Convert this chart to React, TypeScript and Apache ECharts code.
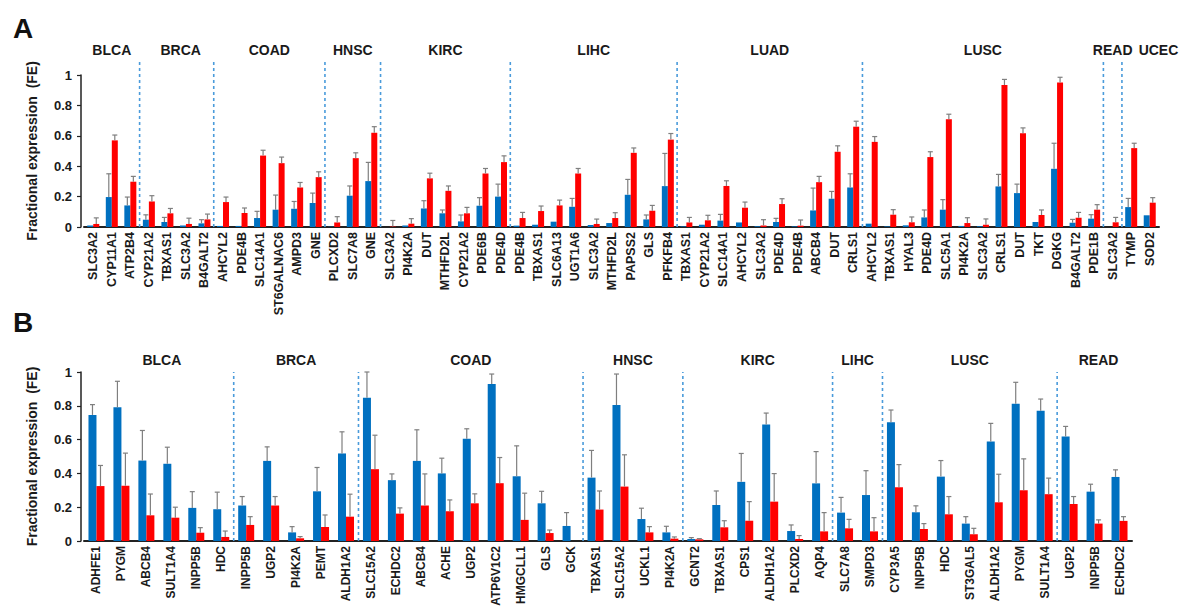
import React, { useEffect, useRef } from "react";
import * as echarts from "echarts";

// ---------- Panel A ----------
const catsA = [
  "SLC3A2", "CYP11A1", "ATP2B4",
  "CYP21A2", "TBXAS1", "SLC3A2", "B4GALT2",
  "AHCYL2", "PDE4B", "SLC14A1", "ST6GALNAC6", "AMPD3", "GNE",
  "PLCXD2", "SLC7A8", "GNE",
  "SLC3A2", "PI4K2A", "DUT", "MTHFD2L", "CYP21A2", "PDE6B", "PDE4D",
  "PDE4B", "TBXAS1", "SLC6A13", "UGT1A6", "SLC3A2", "MTHFD2L", "PAPSS2", "GLS", "PFKFB4",
  "TBXAS1", "CYP21A2", "SLC14A1", "AHCYL2", "SLC3A2", "PDE4D", "PDE4B", "ABCB4", "DUT", "CRLS1",
  "AHCYL2", "TBXAS1", "HYAL3", "PDE4D", "SLC5A1", "PI4K2A", "SLC3A2", "CRLS1", "DUT", "TKT", "DGKG", "B4GALT2", "PDE1B",
  "SLC3A2",
  "TYMP", "SOD2",
];
const groupsA = ["BLCA", "BRCA", "COAD", "HNSC", "KIRC", "LIHC", "LUAD", "LUSC", "READ", "UCEC"];
const groupSizesA = [3, 4, 6, 3, 7, 9, 10, 13, 1, 2];
const blueA = [
  0.01, 0.197, 0.142,
  0.048, 0.033, 0.01, 0.024,
  0.007, 0.007, 0.059, 0.114, 0.12, 0.158,
  0.002, 0.206, 0.302,
  0.0, 0.01, 0.122, 0.09, 0.037, 0.14, 0.2,
  0.009, 0.015, 0.035, 0.133, 0.013, 0.026, 0.212, 0.05, 0.269,
  0.004, 0.015, 0.042, 0.03, 0.005, 0.033, 0.004, 0.109, 0.186, 0.26,
  0.022, 0.004, 0.011, 0.063, 0.114, 0.007, 0.005, 0.267, 0.223, 0.033, 0.383, 0.028, 0.055,
  0.0,
  0.131, 0.077,
];
const blueErrA = [
  0, 0.153, 0.055,
  0.032, 0.03, 0, 0.024,
  0, 0, 0.044, 0.096, 0.048, 0.065,
  0, 0.064, 0.123,
  0, 0, 0.051, 0.022, 0.042, 0.053, 0.082,
  0, 0, 0, 0.055, 0, 0, 0.101, 0.029, 0.215,
  0, 0, 0.041, 0, 0, 0.024, 0, 0.147, 0.048, 0.09,
  0, 0, 0, 0.049, 0.066, 0, 0, 0.079, 0.059, 0, 0.168, 0.022, 0.026,
  0,
  0.057, 0,
];
const redA = [
  0.02, 0.57, 0.298,
  0.168, 0.09, 0.02, 0.05,
  0.164, 0.092, 0.47, 0.42, 0.26, 0.328,
  0.03, 0.453, 0.62,
  0.003, 0.022, 0.32, 0.238, 0.09, 0.352, 0.427,
  0.059, 0.105, 0.142, 0.352, 0.02, 0.059, 0.488, 0.107, 0.575,
  0.03, 0.044, 0.27, 0.127, 0.01, 0.151, 0.009, 0.295, 0.495, 0.66,
  0.56, 0.081, 0.031, 0.46, 0.709, 0.026, 0.015, 0.934, 0.617, 0.079, 0.95, 0.061, 0.114,
  0.031,
  0.519, 0.16,
];
const redErrA = [
  0.04, 0.035, 0.035,
  0.038, 0.032, 0.038, 0.035,
  0.033, 0.033, 0.035, 0.04, 0.033, 0.035,
  0.038, 0.035, 0.04,
  0.04, 0.033, 0.034, 0.032, 0.039, 0.033, 0.041,
  0.037, 0.033, 0.035, 0.033, 0.032, 0.035, 0.032, 0.035, 0.04,
  0.033, 0.033, 0.034, 0.037, 0.038, 0.035, 0.037, 0.038, 0.039, 0.036,
  0.035, 0.033, 0.035, 0.035, 0.033, 0.035, 0.038, 0.037, 0.035, 0.033, 0.035, 0.035, 0.033,
  0.032,
  0.032, 0.033,
];

// ---------- Panel B ----------
const catsB = [
  "ADHFE1", "PYGM", "ABCB4", "SULT1A4", "INPP5B", "HDC",
  "INPP5B", "UGP2", "PI4K2A", "PEMT", "ALDH1A2",
  "SLC15A2", "ECHDC2", "ABCB4", "ACHE", "UGP2", "ATP6V1C2", "HMGCLL1", "GLS", "GCK",
  "TBXAS1", "SLC15A2", "UCKL1", "PI4K2A",
  "GCNT2", "TBXAS1", "CPS1", "ALDH1A2", "PLCXD2", "AQP4",
  "SLC7A8", "SMPD3",
  "CYP3A5", "INPP5B", "HDC", "ST3GAL5", "ALDH1A2", "PYGM", "SULT1A4",
  "UGP2", "INPP5B", "ECHDC2",
];
const groupsB = ["BLCA", "BRCA", "COAD", "HNSC", "KIRC", "LIHC", "LUSC", "READ"];
const groupSizesB = [6, 5, 9, 4, 6, 2, 7, 3];
const blueB = [
  0.746, 0.791, 0.476, 0.457, 0.196, 0.188,
  0.21, 0.474, 0.051, 0.294, 0.518,
  0.848, 0.36, 0.474, 0.4, 0.605, 0.929, 0.383, 0.223, 0.089,
  0.375, 0.804, 0.13, 0.051,
  0.012, 0.213, 0.35, 0.69, 0.059, 0.341,
  0.168, 0.272,
  0.702, 0.17, 0.381, 0.103, 0.589, 0.812, 0.771,
  0.619, 0.292, 0.379,
];
const blueErrB = [
  0.061, 0.154, 0.178, 0.098, 0.096, 0.101,
  0.053, 0.083, 0.034, 0.141, 0.128,
  0.152, 0.037, 0.184, 0.09, 0.059, 0.059, 0.18, 0.071, 0.079,
  0.161, 0.184, 0.064, 0.036,
  0.008, 0.083, 0.168, 0.067, 0.036, 0.188,
  0.09, 0.144,
  0.073, 0.038, 0.095, 0.041, 0.107, 0.127, 0.069,
  0.059, 0.044, 0.042,
];
const redB = [
  0.325, 0.327, 0.152, 0.138, 0.049, 0.024,
  0.095, 0.21, 0.016, 0.083, 0.144,
  0.425, 0.162, 0.21, 0.176, 0.223, 0.342, 0.125, 0.047, 0.0,
  0.186, 0.322, 0.051, 0.014,
  0.01, 0.081, 0.12, 0.233, 0.012, 0.057,
  0.075, 0.057,
  0.318, 0.071, 0.158, 0.04, 0.229, 0.3, 0.277,
  0.219, 0.103, 0.119,
];
const redErrB = [
  0.122, 0.193, 0.126, 0.062, 0.03, 0.035,
  0.049, 0.053, 0.01, 0.071, 0.133,
  0.201, 0.034, 0.187, 0.067, 0.056, 0.152, 0.158, 0.018, 0,
  0.11, 0.188, 0.034, 0.01,
  0.004, 0.039, 0.113, 0.166, 0.02, 0.111,
  0.053, 0.081,
  0.134, 0.032, 0.105, 0.035, 0.166, 0.186, 0.095,
  0.044, 0.022, 0.025,
];

const FONT = '"Liberation Sans", Arial, sans-serif';
const BLUE = "#0070C0";
const RED = "#FF0000";
const ERR = "#7f7f7f";
const DIV = "#4A9BDB";
const TXT = "#1a1a1a";

function cumStarts(sizes: number[]) {
  const s: number[] = [];
  let acc = 0;
  for (const n of sizes) {
    s.push(acc);
    acc += n;
  }
  return s;
}

function panelSeries(
  p: number,
  blue: number[],
  blueErr: number[],
  red: number[],
  redErr: number[],
  groups: string[],
  sizes: number[],
  barW: number,
  divTop: number,
  titleY: number,
  titleShift: number[]
) {
  const starts = cumStarts(sizes);
  const bounds = starts.slice(1);
  const errRender = (offset: number) => (params: any, api: any) => {
    const i = api.value(0);
    const v = api.value(1);
    const e = api.value(2);
    if (!e) return { type: "group", children: [] };
    const p0 = api.coord([i, v]);
    const p1 = api.coord([i, v + e]);
    const x = p0[0] + offset;
    const style = { stroke: ERR, lineWidth: 1.2 };
    return {
      type: "group",
      children: [
        { type: "line", shape: { x1: x, y1: p0[1], x2: x, y2: p1[1] }, style },
        { type: "line", shape: { x1: x - 2.5, y1: p1[1], x2: x + 2.5, y2: p1[1] }, style },
      ],
    };
  };
  return [
    {
      type: "bar",
      xAxisIndex: p,
      yAxisIndex: p,
      data: blue,
      barWidth: barW,
      barGap: "0%",
      itemStyle: { color: BLUE },
    },
    {
      type: "bar",
      xAxisIndex: p,
      yAxisIndex: p,
      data: red,
      barWidth: barW,
      barGap: "0%",
      itemStyle: { color: RED },
    },
    {
      type: "custom",
      xAxisIndex: p,
      yAxisIndex: p,
      silent: true,
      z: 3,
      renderItem: errRender(-barW / 2),
      data: blue.map((v, i) => [i, v, blueErr[i]]),
    },
    {
      type: "custom",
      xAxisIndex: p,
      yAxisIndex: p,
      silent: true,
      z: 3,
      renderItem: errRender(barW / 2),
      data: red.map((v, i) => [i, v, redErr[i]]),
    },
    {
      type: "custom",
      xAxisIndex: p,
      yAxisIndex: p,
      silent: true,
      renderItem: (params: any, api: any) => {
        const b = api.value(0);
        const band = api.size([1, 0])[0];
        const x = api.coord([b, 0])[0] - band / 2;
        const y0 = api.coord([b, 0])[1];
        const y1 = api.coord([b, divTop])[1];
        return {
          type: "line",
          shape: { x1: x, y1: y0, x2: x, y2: y1 },
          style: { stroke: DIV, lineWidth: 1.6, lineDash: [3, 3] },
        };
      },
      data: bounds.map((b) => [b, 0]),
    },
    {
      type: "custom",
      xAxisIndex: p,
      yAxisIndex: p,
      silent: true,
      renderItem: (params: any, api: any) => {
        const k = params.dataIndex;
        const s = starts[k];
        const e = s + sizes[k] - 1;
        const band = api.size([1, 0])[0];
        const xs = api.coord([s, 0])[0] - band / 2;
        const xe = api.coord([e, 0])[0] + band / 2;
        const y = api.coord([s, titleY])[1];
        return {
          type: "text",
          x: (xs + xe) / 2 + (titleShift[k] || 0),
          y,
          style: {
            text: groups[k],
            fill: TXT,
            font: `bold 14px ${FONT}`,
            textAlign: "center",
            textVerticalAlign: "middle",
            align: "center",
            verticalAlign: "middle",
          },
        };
      },
      data: starts.map((s) => [s, 0]),
    },
  ];
}

function yAxisOpt(p: number) {
  return {
    type: "value",
    gridIndex: p,
    min: 0,
    max: 1,
    interval: 0.2,
    offset: 3,
    name: "Fractional expression  (FE)",
    nameLocation: "middle",
    nameRotate: 90,
    nameGap: 42,
    nameTextStyle: { fontFamily: FONT, fontWeight: "bold", fontSize: 14, color: TXT },
    axisLine: { show: true, lineStyle: { color: "#222", width: 1.5 } },
    axisTick: { show: true, length: 4, lineStyle: { color: "#222", width: 1.2 } },
    splitLine: { show: false },
    axisLabel: { fontFamily: FONT, fontWeight: "bold", fontSize: 13, color: TXT, margin: 9 },
  };
}

function xAxisOpt(p: number, cats: string[], fontSize: number) {
  return {
    type: "category",
    gridIndex: p,
    data: cats,
    axisLine: { show: true, lineStyle: { color: "#222", width: 2 } },
    axisTick: { show: false },
    axisLabel: {
      interval: 0,
      rotate: 90,
      fontFamily: FONT,
      fontWeight: "bold",
      fontSize,
      color: TXT,
      margin: 5,
    },
  };
}

export default function App() {
  const ref = useRef<HTMLDivElement>(null);
  useEffect(() => {
    if (!ref.current) return;
    const chart = echarts.init(ref.current, undefined, { renderer: "svg" });
    const titleShiftA = [0, 4, 0, 0, 0, 0, 0, 0, 0, 18];
    const titleShiftB = [3, 0, 0, 0, 0, 0, 0, 4];
    chart.setOption({
      animation: false,
      backgroundColor: "#ffffff",
      grid: [
        { left: 84, width: 1075, top: 75, height: 152 },
        { left: 84, width: 1048, top: 372, height: 169 },
      ],
      xAxis: [xAxisOpt(0, catsA, 12.5), xAxisOpt(1, catsB, 12)],
      yAxis: [yAxisOpt(0), yAxisOpt(1)],
      graphic: [
        {
          type: "text",
          x: 23,
          y: 28,
          style: {
            text: "A",
            font: `bold 28px ${FONT}`,
            fill: "#111",
            textAlign: "center",
            textVerticalAlign: "middle",
            align: "center",
            verticalAlign: "middle",
          },
        },
        {
          type: "text",
          x: 23,
          y: 322,
          style: {
            text: "B",
            font: `bold 28px ${FONT}`,
            fill: "#111",
            textAlign: "center",
            textVerticalAlign: "middle",
            align: "center",
            verticalAlign: "middle",
          },
        },
      ],
      series: [
        ...panelSeries(0, blueA, blueErrA, redA, redErrA, groupsA, groupSizesA, 6, 1.085, 1.164, titleShiftA),
        ...panelSeries(1, blueB, blueErrB, redB, redErrB, groupsB, groupSizesB, 8, 1.0, 1.071, titleShiftB),
      ],
    });
    return () => chart.dispose();
  }, []);
  return (
    <div
      ref={ref}
      style={{ position: "fixed", left: 0, top: 0, width: 1184, height: 613, background: "#fff" }}
    />
  );
}
